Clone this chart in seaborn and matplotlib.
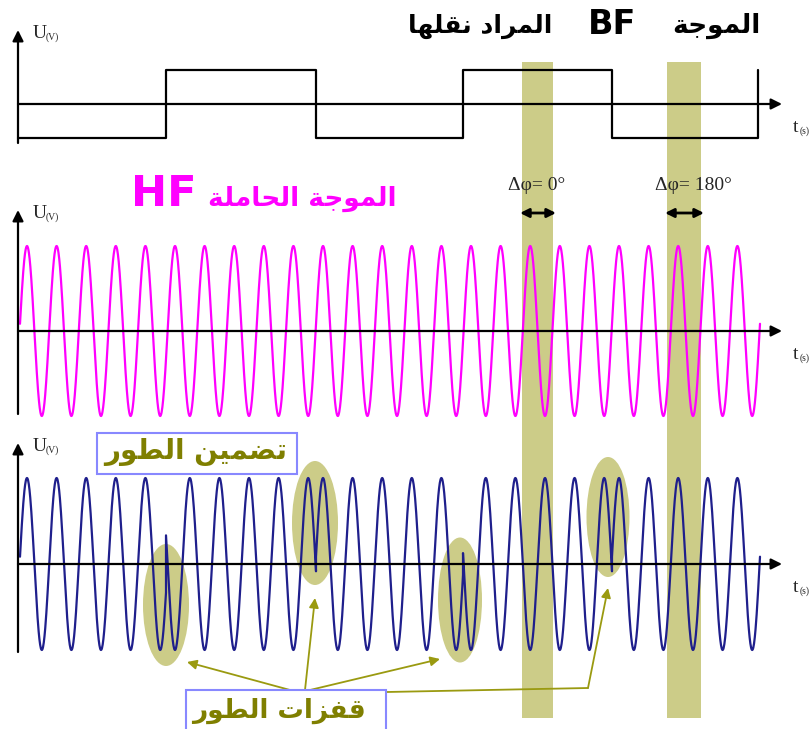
import seaborn as sns
import matplotlib.pyplot as plt
from matplotlib.patches import Ellipse, Rectangle
import numpy as np
import pandas as pd

# positions are in picture pixels (x to the right, y downwards)
bf_edges = [166, 316, 463, 612]
bf_start = 18
bf_end = 758
bf_levels = [-1, 1, -1, 1, -1]
carrier_period = 29.6
carrier_first_peak = 27
sig_start = 20
sig_end = 760

panel_base = [104, 331, 564]
panel_amp = [34, 85, 86]
axis_top = [30, 210, 443]
axis_bottom = [143, 414, 652]
axis_right = 782

bands = [(522, 553), (667, 701)]
band_top = 62
band_bottom = 718

ellipse_x = [166, 315, 460, 608]
ellipse_y = [605, 523, 600, 517]
ellipse_w = [46, 46, 44, 43]
ellipse_h = [122, 124, 125, 120]

dphi_labels = ["Δφ= 0°", "Δφ= 180°"]

C_BAND = "#cccc88"
C_OLIVE = "#7f7f00"
C_ARROW = "#9a9a10"
C_HF = "#ff00ff"
C_PSK = "#1f1f8c"
C_BOX = "#8888ff"

# ---- minimal arabic shaping (presentation forms, visual order)
FORMS = {
    'ا': ('\uFE8D', '\uFE8E', None, None),
    'ل': ('\uFEDD', '\uFEDE', '\uFEDF', '\uFEE0'),
    'م': ('\uFEE1', '\uFEE2', '\uFEE3', '\uFEE4'),
    'و': ('\uFEED', '\uFEEE', None, None),
    'ج': ('\uFE9D', '\uFE9E', '\uFE9F', '\uFEA0'),
    'ة': ('\uFE93', '\uFE94', None, None),
    'ر': ('\uFEAD', '\uFEAE', None, None),
    'د': ('\uFEA9', '\uFEAA', None, None),
    'ن': ('\uFEE5', '\uFEE6', '\uFEE7', '\uFEE8'),
    'ق': ('\uFED5', '\uFED6', '\uFED7', '\uFED8'),
    'ه': ('\uFEE9', '\uFEEA', '\uFEEB', '\uFEEC'),
    'ح': ('\uFEA1', '\uFEA2', '\uFEA3', '\uFEA4'),
    'ت': ('\uFE95', '\uFE96', '\uFE97', '\uFE98'),
    'ض': ('\uFEBD', '\uFEBE', '\uFEBF', '\uFEC0'),
    'ي': ('\uFEF1', '\uFEF2', '\uFEF3', '\uFEF4'),
    'ط': ('\uFEC1', '\uFEC2', '\uFEC3', '\uFEC4'),
    'ف': ('\uFED1', '\uFED2', '\uFED3', '\uFED4'),
    'ز': ('\uFEAF', '\uFEB0', None, None),
}


def shape_word(w):
    out = []
    for i, c in enumerate(w):
        f = FORMS[c]
        jp = i > 0 and FORMS[w[i - 1]][2] is not None
        jn = f[2] is not None and i + 1 < len(w)
        if jp and jn:
            g = f[3]
        elif jp:
            g = f[1]
        elif jn:
            g = f[2]
        else:
            g = f[0]
        out.append(g)
    return ''.join(reversed(out))


def ar(text):
    words = text.split(' ')
    vis = [shape_word(w) if w and w[0] in FORMS else w for w in words]
    return ' '.join(reversed(vis))


sns.set_theme(style="white")
plt.rcParams['font.family'] = ['DejaVu Sans']

fig = plt.figure(figsize=(8.09, 7.29), dpi=100)
ax = fig.add_axes([0, 0, 1, 1])

# signals
t = np.linspace(sig_start, sig_end, 3000)
carrier = np.cos(2 * np.pi * (t - carrier_first_peak) / carrier_period)

bx = [bf_start]
by = [bf_levels[0]]
for e, a, b in zip(bf_edges, bf_levels[:-1], bf_levels[1:]):
    bx += [e, e]
    by += [a, b]
bx += [bf_end, bf_end]
by += [bf_levels[-1], 1]
df_bf = pd.DataFrame({"t": bx, "u": panel_base[0] - panel_amp[0] * np.array(by)})

# psk: carrier flipped on each BF level, exact vertical jumps at edges
px, py = [], []
cuts = [sig_start] + bf_edges + [sig_end]
for k in range(len(cuts) - 1):
    tt = np.linspace(cuts[k], cuts[k + 1], 400)
    cc = np.cos(2 * np.pi * (tt - carrier_first_peak) / carrier_period)
    px += list(tt)
    py += list(-bf_levels[k] * cc)
df_hf = pd.DataFrame({"t": t, "u": panel_base[1] - panel_amp[1] * carrier})
df_psk = pd.DataFrame({"t": px, "u": panel_base[2] - panel_amp[2] * np.array(py)})

# shaded bands and ellipses (behind)
for x0, x1 in bands:
    ax.add_patch(Rectangle((x0, band_top), x1 - x0, band_bottom - band_top,
                           facecolor=C_BAND, edgecolor="none", zorder=0))
for x, y, w, h in zip(ellipse_x, ellipse_y, ellipse_w, ellipse_h):
    ax.add_patch(Ellipse((x, y), w, h, facecolor=C_BAND, edgecolor="none", zorder=1))

sns.lineplot(data=df_bf, x="t", y="u", ax=ax, color="black", lw=1.6,
             estimator=None, sort=False, zorder=3)
sns.lineplot(data=df_hf, x="t", y="u", ax=ax, color=C_HF, lw=1.6,
             estimator=None, sort=False, zorder=3)
sns.lineplot(data=df_psk, x="t", y="u", ax=ax, color=C_PSK, lw=1.6,
             estimator=None, sort=False, zorder=3)
ax.set_xlim(0, 809)
ax.set_ylim(729, 0)
ax.axis("off")

# axes with arrows
for base, top, bot in zip(panel_base, axis_top, axis_bottom):
    ax.annotate("", xy=(18, top), xytext=(18, bot),
                arrowprops=dict(arrowstyle="-|>", color="black", lw=1.6,
                                mutation_scale=16, shrinkA=0, shrinkB=0), zorder=4)
    ax.annotate("", xy=(axis_right, base), xytext=(18, base),
                arrowprops=dict(arrowstyle="-|>", color="black", lw=1.6,
                                mutation_scale=16, shrinkA=0, shrinkB=0), zorder=4)
    ax.text(33, top + 8, "U", fontsize=14, family="Liberation Serif",
            va="baseline", ha="left", zorder=5)
    ax.text(46, top + 10, "(V)", fontsize=7, family="Liberation Serif",
            va="baseline", ha="left", zorder=5)
    ax.text(793, base + 28, "t", fontsize=14, family="Liberation Serif",
            va="baseline", ha="left", zorder=5)
    ax.text(800, base + 30, "(s)", fontsize=7, family="Liberation Serif",
            va="baseline", ha="left", zorder=5)

# titles
ax.text(716, 26, ar("الموجة"), fontsize=19, fontweight="bold", color="black",
        ha="center", va="center")
ax.text(612, 24, "BF", fontsize=24, fontweight="bold", color="black",
        ha="center", va="center")
ax.text(480, 26, ar("المراد نقلها"), fontsize=18, fontweight="bold", color="black",
        ha="center", va="center")
ax.text(164, 194, "HF", fontsize=31, fontweight="bold", color=C_HF,
        ha="center", va="center")
ax.text(302, 199, ar("الموجة الحاملة"), fontsize=19, fontweight="bold", color=C_HF,
        ha="center", va="center")

# phase-difference labels and double arrows
for (x0, x1), lab, cx in zip(bands, dphi_labels, [537, 693]):
    ax.text(cx, 185, lab, fontsize=14, family="Liberation Serif",
            ha="center", va="center", zorder=5)
    ax.annotate("", xy=(x1 + 3, 213), xytext=(x0 - 2, 213),
                arrowprops=dict(arrowstyle="<|-|>", color="black", lw=2,
                                mutation_scale=13, shrinkA=0, shrinkB=0), zorder=5)

# boxes
ax.add_patch(Rectangle((97, 433), 200, 41, facecolor="white", edgecolor=C_BOX,
                       lw=1.5, zorder=6))
ax.text(196, 452, ar("تضمين الطور"), fontsize=20, fontweight="bold", color=C_OLIVE,
        ha="center", va="center", zorder=7)
ax.add_patch(Rectangle((186, 690), 200, 60, facecolor="white", edgecolor=C_BOX,
                       lw=1.5, zorder=6))
ax.text(279, 711, ar("قفزات الطور"), fontsize=19, fontweight="bold", color=C_OLIVE,
        ha="center", va="center", zorder=7)

# olive pointer arrows
targets = [((290, 690), (187, 662)), ((305, 690), (315, 598)), ((310, 690), (440, 659))]
for start, end in targets:
    ax.annotate("", xy=end, xytext=start,
                arrowprops=dict(arrowstyle="-|>", color=C_ARROW, lw=1.3,
                                mutation_scale=14, shrinkA=0, shrinkB=0), zorder=5)
ax.plot([387, 588], [692, 688], color=C_ARROW, lw=1.3, zorder=5)
ax.annotate("", xy=(608, 588), xytext=(588, 688),
            arrowprops=dict(arrowstyle="-|>", color=C_ARROW, lw=1.3,
                            mutation_scale=14, shrinkA=0, shrinkB=0), zorder=5)

fig.savefig("out.png", dpi=100, facecolor="white")
